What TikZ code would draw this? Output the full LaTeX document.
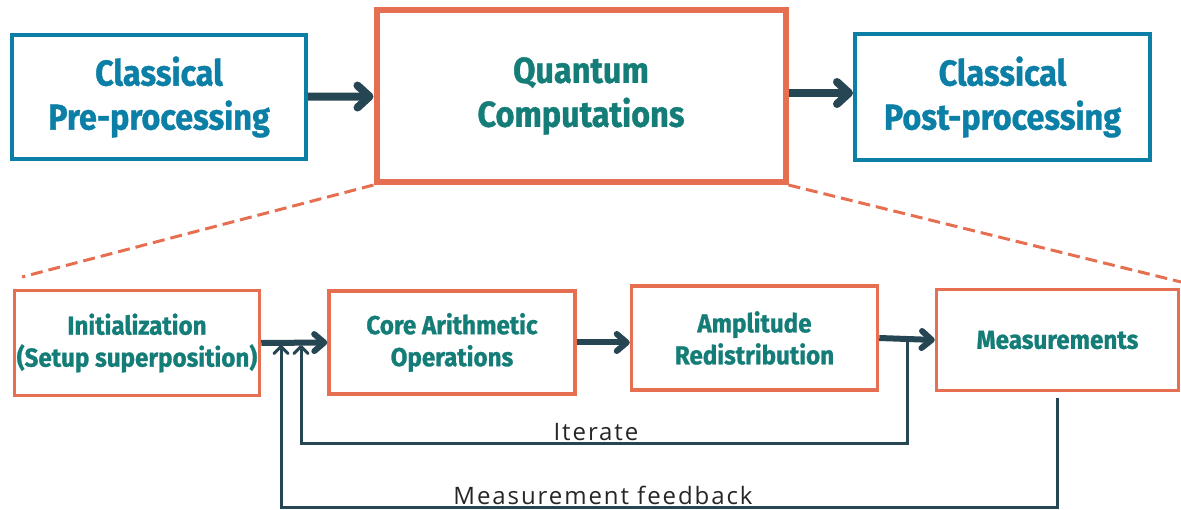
\documentclass[tikz,border=0pt]{standalone}
\usepackage{fontspec}
\usetikzlibrary{arrows.meta}
\newfontfamily\boxfont[FakeStretch=0.9, BoldFeatures={FakeBold=1}]{Fira Sans}
\newfontfamily\stepfont[FakeStretch=0.93, BoldFeatures={FakeBold=1}]{Fira Sans}
\newfontfamily\labelfont[LetterSpace=8]{Open Sans}
\definecolor{qorange}{HTML}{E76F51}
\definecolor{qblue}{HTML}{0B7FA6}
\definecolor{qteal}{HTML}{157D78}
\definecolor{qdark}{HTML}{264653}
\tikzset{
    stagenode/.style = {
        align=center,
        rectangle,
        draw=qblue,
        text=qblue,
        line width=4pt,
        font=\boxfont\bfseries\fontsize{36}{44}\selectfont,
        inner sep=0pt
    },
    quantumnode/.style = {
        stagenode,
        draw=qorange,
        text=qteal,
        line width=6pt
    },
    stepnode/.style = {
        stagenode,
        draw=qorange,
        text=qteal,
        line width=3.5pt,
        font=\stepfont\bfseries\fontsize{26}{32}\selectfont
    },
    looplabel/.style = {
        inner sep=0pt,
        text=black!85,
        font=\labelfont\fontsize{24}{28}\selectfont
    },
    bigarrow/.style = {
        draw=qdark,
        line width=8pt,
        -{Straight Barb[length=12pt,width=22pt,round]}
    },
    steparrow/.style = {
        draw=qdark,
        line width=6pt,
        -{Straight Barb[length=10pt,width=17pt,round]}
    },
    looparrow/.style = {
        draw=qdark,
        line width=3pt,
        -{Straight Barb[length=7pt,width=14pt,round]}
    },
    zoomline/.style = {
        draw=qorange,
        line width=3pt,
        dash pattern=on 12pt off 6pt
    }
}
\begin{document}
\begin{tikzpicture}[x=1pt, y=-1pt]
    \useasboundingbox (0,0) rectangle (1181,510);
    \node [stagenode, minimum width=294pt, minimum height=124pt] (pre) at (159,97) {Classical\\Pre-processing};
    \node [quantumnode, minimum width=409pt, minimum height=172pt] (qc) at (581,96) {Quantum\\Computations};
    \node [stagenode, minimum width=295pt, minimum height=126pt] (post) at (1002.5,97) {Classical\\Post-processing};
    \node [stepnode, minimum width=245pt, minimum height=105pt] (init) at (137,343) {Initialization\\(Setup superposition)};
    \node [stepnode, minimum width=246pt, minimum height=103pt] (core) at (452,342.5) {Core Arithmetic\\Operations};
    \node [stepnode, minimum width=246pt, minimum height=104pt] (amp) at (754.5,338) {Amplitude\\Redistribution};
    \node [stepnode, minimum width=242pt, minimum height=101pt] (meas) at (1057.5,340) {Measurements};
    \coordinate (zoomleft) at (22,277);
    \coordinate (zoomright) at (1181,282);
    \coordinate (itertop) at (907,340);
    \coordinate (itertip) at (301,345);
    \coordinate (fbtip) at (281,345);
    \draw [zoomline] (qc.south west) -- (zoomleft);
    \draw [zoomline] (qc.south east) -- (zoomright);
    \draw [bigarrow] (pre) -- (qc);
    \draw [bigarrow] (qc.east |- 0,93) -- (post.west |- 0,93);
    \draw [steparrow] (init.east) -- (core.west);
    \draw [steparrow] (core.east) -- (core.east -| amp.west);
    \draw [steparrow] (amp.east) -- (meas.west);
    \draw [looparrow] (itertop) -- (itertop |- 0,444) -| (itertip);
    \draw [looparrow] ([yshift=-6pt]meas.south) -- ++(0,109) -| (fbtip);
    \node [looplabel, anchor=base] (iterlabel) at (596,440) {Iterate};
    \node [looplabel, anchor=base] (fblabel) at (603,504) {Measurement feedback};
\end{tikzpicture}
\end{document}
